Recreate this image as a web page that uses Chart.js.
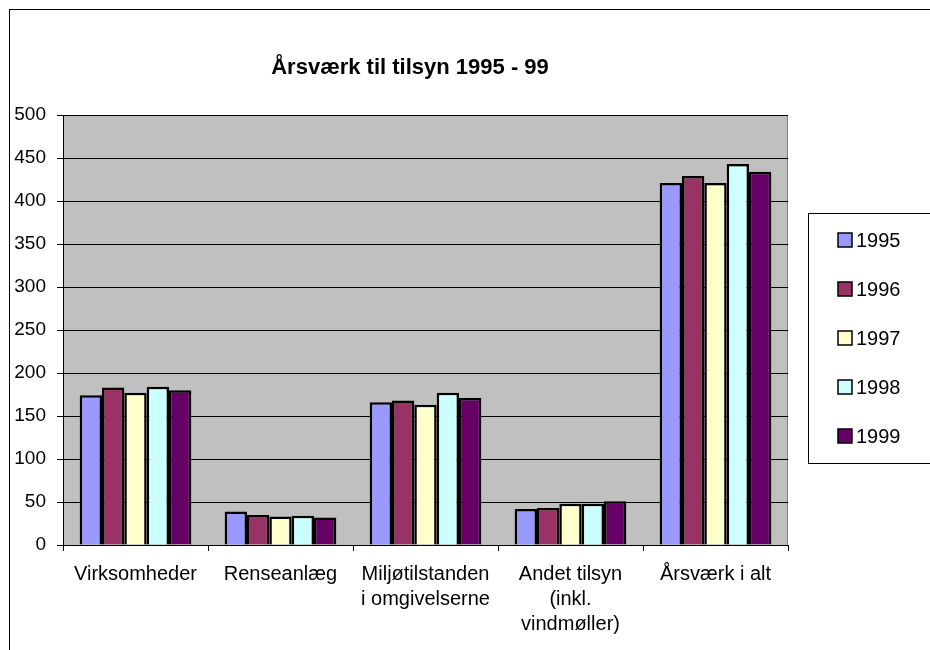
<!DOCTYPE html>
<html>
<head>
<meta charset="utf-8">
<script src="https://cdn.jsdelivr.net/npm/chart.js@4/dist/chart.umd.min.js"></script>
<style>
  body { margin: 0; background: #fff; }
</style>
</head>
<body>
<canvas id="chart" width="930" height="650"></canvas>
<script>
// data
const categories = ['Virksomheder', 'Renseanlæg', ['Miljøtilstanden', 'i omgivelserne'], ['Andet tilsyn', '(inkl.', 'vindmøller)'], 'Årsværk i alt'];
const years = ['1995', '1996', '1997', '1998', '1999'];
const v1995 = [174, 39, 166, 42, 421];
const v1996 = [183, 35, 168, 43, 429];
const v1997 = [177, 33, 163, 48, 421];
const v1998 = [184, 34, 177, 48, 443];
const v1999 = [180, 32, 171, 51, 434];
const yTicks = [0, 50, 100, 150, 200, 250, 300, 350, 400, 450, 500];
const title = 'Årsværk til tilsyn 1995 - 99';

const colors = ['#9999FF', '#993366', '#FFFFCC', '#CCFFFF', '#660066'];
const series = [v1995, v1996, v1997, v1998, v1999];

const FONT = 'Arial, "Liberation Sans", sans-serif';

// grey plot background, outer frame, title and legend box
const decorations = {
    id: 'decorations',
    beforeDraw(chart) {
        const { ctx, chartArea: a } = chart;
        ctx.save();
        ctx.fillStyle = '#C0C0C0';
        ctx.fillRect(a.left, a.top, a.right - a.left, a.bottom - a.top);
        ctx.strokeStyle = '#808080';
        ctx.lineWidth = 1;
        ctx.strokeRect(a.left + 0.5, a.top + 0.5, a.right - a.left - 1, a.bottom - a.top);
        ctx.restore();
    },
    afterDraw(chart) {
        const ctx = chart.ctx;
        ctx.save();
        // outer frame
        ctx.strokeStyle = '#000';
        ctx.lineWidth = 1;
        ctx.strokeRect(9.5, 9.5, 1000, 1000);

        // title
        ctx.fillStyle = '#000';
        ctx.font = 'bold 22px ' + FONT;
        ctx.textAlign = 'center';
        ctx.textBaseline = 'middle';
        ctx.fillText(title, 410, 68);

        // legend
        ctx.textAlign = 'left';
        ctx.strokeStyle = '#000';
        ctx.strokeRect(808.5, 213.5, 200, 250);
        ctx.font = '20px ' + FONT;
        chart.data.datasets.forEach((ds, i) => {
            const y = 240 + i * 49;
            ctx.fillStyle = ds.backgroundColor;
            ctx.fillRect(838, y - 7, 14, 14);
            ctx.lineWidth = 1.5;
            ctx.strokeStyle = '#000';
            ctx.strokeRect(838, y - 7, 14, 14);
            ctx.fillStyle = '#000';
            ctx.fillText(ds.label, 856, y + 1);
        });
        ctx.restore();
    }
};

const ctx = document.getElementById('chart').getContext('2d');
const chart = new Chart(ctx, {
    type: 'bar',
    data: {
        labels: categories,
        datasets: years.map((y, i) => ({
            label: y,
            data: series[i],
            backgroundColor: colors[i],
            borderColor: '#000',
            borderWidth: 2.5,
            borderSkipped: 'bottom',
            categoryPercentage: 0.77,
            barPercentage: 1.0
        }))
    },
    options: {
        responsive: false,
        animation: false,
        layout: { padding: { left: 0, right: 142, top: 115, bottom: 0 } },
        plugins: {
            legend: { display: false },
            tooltip: { enabled: false },
            title: { display: false }
        },
        scales: {
            x: {
                grid: {
                    drawOnChartArea: false,
                    color: '#000',
                    tickLength: 6,
                    offset: true
                },
                border: { color: '#000', width: 1 },
                ticks: {
                    color: '#000',
                    font: { family: FONT, size: 20, lineHeight: 1.25 },
                    padding: 11,
                    maxRotation: 0,
                    autoSkip: false
                },
                afterFit(scale) { scale.height = 105; }
            },
            y: {
                min: 0,
                max: 500,
                afterBuildTicks(scale) { scale.ticks = yTicks.map(v => ({ value: v })); },
                grid: {
                    color: '#000',
                    tickLength: 6
                },
                border: { color: '#000', width: 1 },
                ticks: {
                    color: '#000',
                    font: { family: FONT, size: 19 },
                    padding: 11
                },
                afterFit(scale) { scale.width = 63; }
            }
        }
    },
    plugins: [decorations]
});
</script>
</body>
</html>
